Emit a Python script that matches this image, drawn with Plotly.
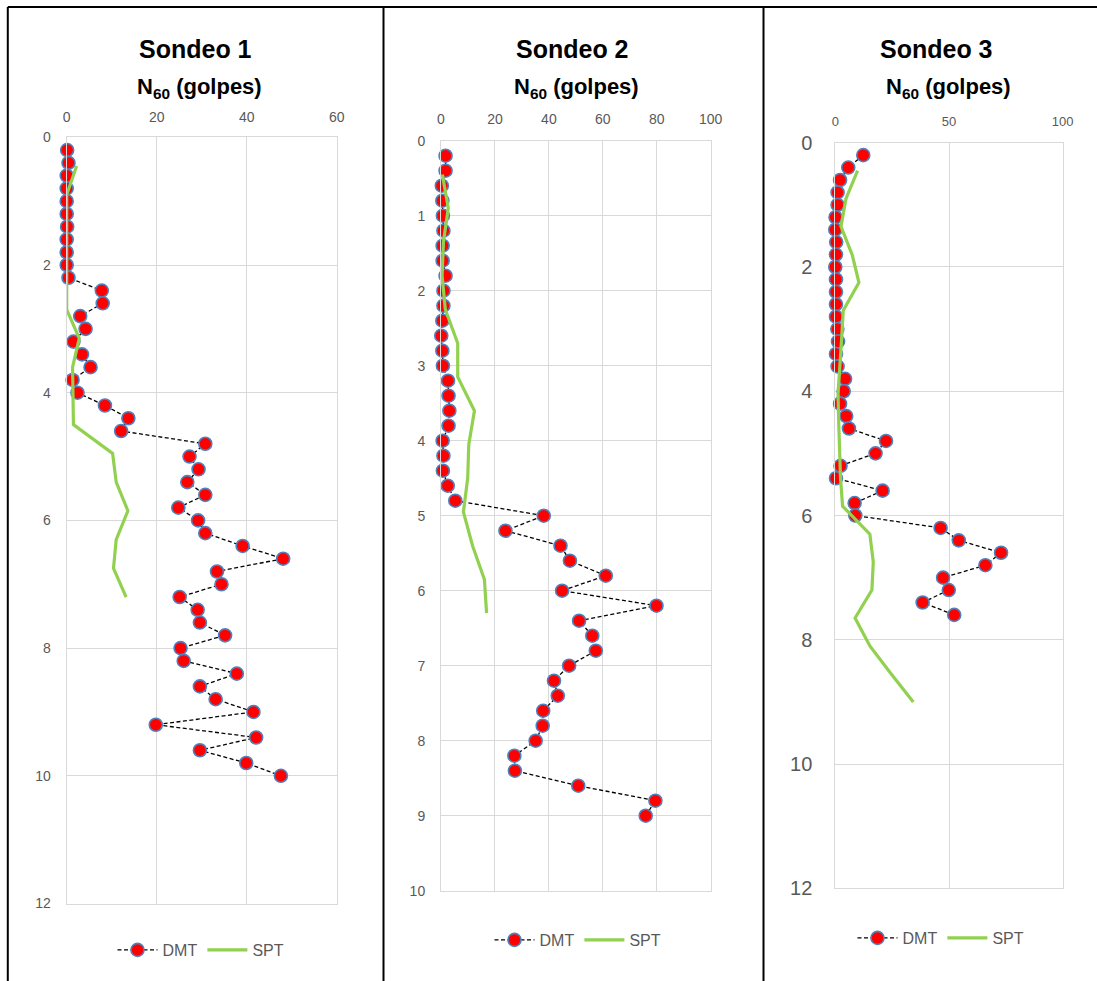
import plotly.graph_objects as go

# ---------------- data ----------------
# Sondeo 1
depth_dmt_1 = [0.2, 0.4, 0.6, 0.8, 1.0, 1.2, 1.4, 1.6, 1.8, 2.0,
               2.2, 2.4, 2.6, 2.8, 3.0, 3.2, 3.4, 3.6, 3.8, 4.0,
               4.2, 4.4, 4.6, 4.8, 5.0, 5.2, 5.4, 5.6, 5.8, 6.0,
               6.2, 6.4, 6.6, 6.8, 7.0, 7.2, 7.4, 7.6, 7.8, 8.0,
               8.2, 8.4, 8.6, 8.8, 9.0, 9.2, 9.4, 9.6, 9.8, 10.0]
n60_dmt_1 = [0.1, 0.4, 0.0, 0.0, 0.0, 0.0, 0.1, 0.0, 0.0, 0.0,
             0.4, 7.8, 8.0, 3.0, 4.2, 1.5, 3.4, 5.3, 1.3, 2.4,
             8.5, 13.7, 12.1, 30.8, 27.3, 29.3, 26.8, 30.8, 24.8, 29.2,
             30.8, 39.1, 48.1, 33.4, 34.4, 25.1, 29.1, 29.6, 35.2, 25.3,
             26.0, 37.8, 29.6, 33.1, 41.5, 19.8, 42.1, 29.6, 39.9, 47.6]
depth_spt_1 = [0.45, 0.9, 1.35, 1.8, 2.25, 2.7, 3.15, 3.6, 4.05, 4.5,
               4.95, 5.4, 5.85, 6.3, 6.75, 7.2]
n60_spt_1 = [2.2, 0.0, 0.0, 0.0, 0.0, 0.0, 2.8, 1.3, 1.4, 1.5,
             10.2, 11.0, 13.6, 11.0, 10.4, 13.2]

# Sondeo 2
depth_dmt_2 = [0.2, 0.4, 0.6, 0.8, 1.0, 1.2, 1.4, 1.6, 1.8, 2.0,
               2.2, 2.4, 2.6, 2.8, 3.0, 3.2, 3.4, 3.6, 3.8, 4.0,
               4.2, 4.4, 4.6, 4.8, 5.0, 5.2, 5.4, 5.6, 5.8, 6.0,
               6.2, 6.4, 6.6, 6.8, 7.0, 7.2, 7.4, 7.6, 7.8, 8.0,
               8.2, 8.4, 8.6, 8.8, 9.0]
n60_dmt_2 = [1.7, 1.7, 0.3, 0.5, 0.7, 0.9, 0.6, 0.6, 1.7, 0.9,
             0.9, 0.5, 0.1, 0.5, 0.7, 2.6, 2.8, 3.1, 2.8, 0.6,
             0.9, 0.7, 2.5, 5.3, 38.1, 23.9, 44.3, 47.8, 61.1, 44.9,
             79.9, 51.2, 56.1, 57.4, 47.5, 41.9, 43.3, 37.9, 37.7, 35.1,
             27.2, 27.4, 50.9, 79.5, 75.9]
depth_spt_2 = [0.45, 0.9, 1.35, 1.8, 2.25, 2.7, 3.15, 3.6, 4.05, 4.5,
               4.95, 5.4, 5.85, 6.3]
n60_spt_2 = [0.5, 2.7, 0.9, 0.4, 1.6, 6.2, 6.2, 12.4, 10.3, 9.9,
             8.3, 11.7, 16.1, 16.9]

# Sondeo 3
depth_dmt_3 = [0.2, 0.4, 0.6, 0.8, 1.0, 1.2, 1.4, 1.6, 1.8, 2.0,
               2.2, 2.4, 2.6, 2.8, 3.0, 3.2, 3.4, 3.6, 3.8, 4.0,
               4.2, 4.4, 4.6, 4.8, 5.0, 5.2, 5.4, 5.6, 5.8, 6.0,
               6.2, 6.4, 6.6, 6.8, 7.0, 7.2, 7.4, 7.6]
n60_dmt_3 = [12.3, 5.7, 2.1, 1.0, 1.0, 0.1, 0.0, 0.4, 0.3, 0.0,
             0.3, 0.3, 0.3, 0.3, 0.9, 1.2, 0.3, 1.0, 4.3, 3.7,
             2.1, 4.8, 6.0, 22.3, 17.7, 2.3, 0.3, 20.8, 8.5, 8.8,
             46.3, 54.3, 72.9, 66.0, 47.4, 49.9, 38.4, 52.3]
depth_spt_3 = [0.45, 0.9, 1.35, 1.8, 2.25, 2.7, 3.15, 3.6, 4.05, 4.5,
               4.95, 5.4, 5.85, 6.3, 6.75, 7.2, 7.65, 8.1, 8.55, 9.0]
n60_spt_3 = [9.8, 4.7, 2.5, 7.4, 10.4, 3.5, 2.8, 2.0, 1.2, 1.5,
             1.8, 2.3, 3.2, 15.2, 16.7, 16.1, 8.7, 15.2, 24.6, 34.3]

titles = ["Sondeo 1", "Sondeo 2", "Sondeo 3"]
subtitle = "N<sub>60</sub> (golpes)"
x_ranges = [[0, 60], [0, 100], [0, 100]]
x_dticks = [20, 20, 50]
y_ranges = [[12, 0], [10, 0], [12, 0]]
y_dticks = [2, 1, 2]

# ---------------- styling ----------------
W, H = 1097, 981
FONT = "'Liberation Sans', Arial, sans-serif"
GRID = "#d9d9d9"
TICK = "#595959"
RED = "#ff0000"
EDGE = "#4f81bd"
GREEN = "#92d050"


def fx(p):
    return p / W


def fy(p):
    return 1 - p / H


# plot-area boxes in pixels: (left, right, top, bottom)
boxes = [(66.7, 336.7, 137.3, 903.5),
         (441.0, 710.7, 140.7, 890.7),
         (835.3, 1062.7, 142.7, 888.3)]
x_font = [14, 14, 13]
y_font = [14, 14, 20]
y_stand = [12, 12, 18]
x_stand = [9, 10, 11]
title_x = [195, 572, 936]
sub_x = [199, 576, 948]
legend_pos = [(201, 950), (578, 940), (941, 938)]

series = [
    (depth_dmt_1, n60_dmt_1, depth_spt_1, n60_spt_1),
    (depth_dmt_2, n60_dmt_2, depth_spt_2, n60_spt_2),
    (depth_dmt_3, n60_dmt_3, depth_spt_3, n60_spt_3),
]

fig = go.Figure()
layout = dict(
    width=W, height=H,
    margin=dict(l=0, r=0, t=0, b=0, autoexpand=False),
    paper_bgcolor="white", plot_bgcolor="white",
    font=dict(family=FONT, color=TICK),
    annotations=[], shapes=[],
)

for i, (dd, dv, sd, sv) in enumerate(series):
    k = "" if i == 0 else str(i + 1)
    leg = "legend" + k
    fig.add_trace(go.Scatter(
        x=dv, y=dd, name="DMT", mode="lines+markers",
        xaxis="x" + k, yaxis="y" + k, legend=leg, cliponaxis=False,
        line=dict(color="black", width=1.3, dash="4px,2.5px"),
        marker=dict(size=13, color=RED, line=dict(color=EDGE, width=1.6)),
    ))
    fig.add_trace(go.Scatter(
        x=sv, y=sd, name="SPT", mode="lines",
        xaxis="x" + k, yaxis="y" + k, legend=leg, cliponaxis=False,
        line=dict(color=GREEN, width=3.2),
    ))

    l, r, t, b = boxes[i]
    layout["xaxis" + k] = dict(
        domain=[fx(l), fx(r)], anchor="y" + k, side="top", automargin=False,
        range=x_ranges[i], dtick=x_dticks[i], tick0=0,
        showgrid=True, gridcolor=GRID, gridwidth=1, zeroline=False,
        showline=True, linecolor=GRID, linewidth=1, mirror=True,
        ticks="", ticklabelstandoff=x_stand[i],
        tickfont=dict(family=FONT, size=x_font[i], color=TICK),
    )
    layout["yaxis" + k] = dict(
        domain=[fy(b), fy(t)], anchor="x" + k, automargin=False,
        range=y_ranges[i], dtick=y_dticks[i], tick0=0,
        showgrid=True, gridcolor=GRID, gridwidth=1, zeroline=False,
        showline=True, linecolor=GRID, linewidth=1, mirror=True,
        ticks="", ticklabelstandoff=y_stand[i],
        tickfont=dict(family=FONT, size=y_font[i], color=TICK),
    )

    lx, ly = legend_pos[i]
    layout[leg] = dict(
        orientation="h", x=fx(lx), y=fy(ly), xanchor="center", yanchor="middle",
        font=dict(family=FONT, size=16, color=TICK),
        bgcolor="rgba(0,0,0,0)", itemwidth=40, tracegroupgap=0,
    )

    layout["annotations"].append(dict(
        text="<b>%s</b>" % titles[i], x=fx(title_x[i]), y=fy(49),
        xref="paper", yref="paper", showarrow=False,
        xanchor="center", yanchor="middle",
        font=dict(family=FONT, size=25, color="black"),
    ))
    layout["annotations"].append(dict(
        text="<b>%s</b>" % subtitle, x=fx(sub_x[i]), y=fy(88),
        xref="paper", yref="paper", showarrow=False,
        xanchor="center", yanchor="middle",
        font=dict(family=FONT, size=22, color="black"),
    ))

# table frame around the three panels
frame = [(7.8, 7.0, 1097, 7.0),
         (7.8, 7.0, 7.8, 981),
         (383.5, 7.0, 383.5, 981),
         (763.5, 7.0, 763.5, 981)]
for x0, y0, x1, y1 in frame:
    layout["shapes"].append(dict(
        type="line", xref="paper", yref="paper",
        x0=fx(x0), y0=fy(y0), x1=fx(x1), y1=fy(y1),
        line=dict(color="black", width=2),
    ))

fig.update_layout(**layout)
fig.write_html("out.html")
